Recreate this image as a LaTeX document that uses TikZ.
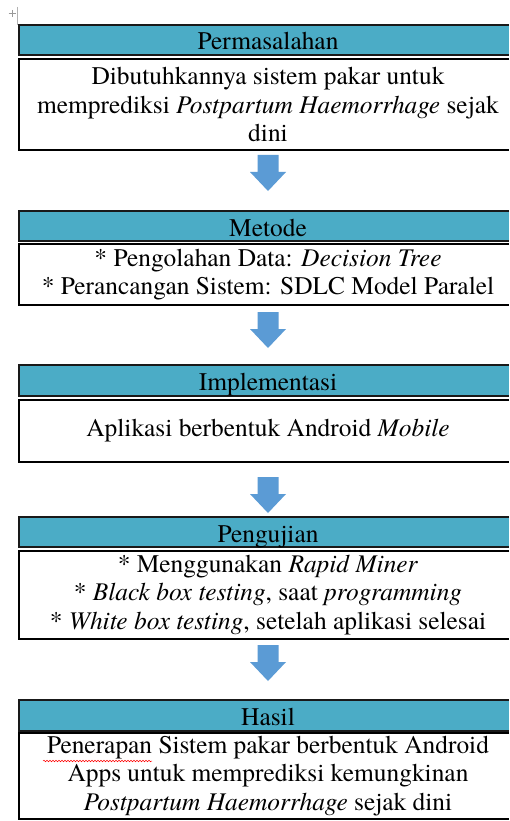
\documentclass[tikz,border=0pt]{standalone}
\usepackage{fontspec}
\setmainfont{TeX Gyre Termes}
\usetikzlibrary{decorations.pathmorphing,backgrounds}
\definecolor{headfill}{HTML}{4BACC6}
\definecolor{arrowfill}{HTML}{5B9BD5}
\begin{document}
\begin{tikzpicture}[x=1pt,y=-1pt,
  headbox/.style={minimum width=482pt, inner sep=0pt, outer sep=0pt, anchor=north,
    text height=21pt, text depth=1pt, font=\fontsize{25.4}{29}\selectfont},
  bodybox/.style={minimum width=482pt, inner sep=0pt, outer sep=0pt, anchor=north,
    align=center, font=\fontsize{25.4}{28.8}\selectfont},
  headline/.style={draw=black!90, line width=1.3pt},
  bodyline/.style={draw=black, line width=1.3pt},
  downarrow/.pic={\fill[arrowfill] (-10.5,0) -- (10.5,0) -- (10.5,17) -- (18,17) -- (0,36) -- (-18,17) -- (-10.5,17) -- cycle;}
]
\path[use as bounding box] (0,0) rectangle (509,821);
\coordinate (L) at (19,0);
\coordinate (R) at (509,0);
% table handle
\draw[gray!60, line width=0.6pt] (17,7) -- (17,25);
\draw[gray!80, line width=0.8pt] (12,10) -- (12,17) (8.5,13.5) -- (15.5,13.5);

\node[headbox, minimum height=30pt] (h1) at (268,25) {Permasalahan};
\node[bodybox, minimum height=91pt] (c1) at (268,59) {Dibutuhkannya sistem pakar untuk\\ memprediksi \textit{Postpartum Haemorrhage} sejak\\ dini};
\pic at (268,155) {downarrow};

\node[headbox, minimum height=30pt] (h2) at (268,211) {Metode};
\node[bodybox, minimum height=61pt] (c2) at (268,244) {* Pengolahan Data: \textit{Decision Tree}\\ * Perancangan Sistem: SDLC Model Paralel};
\pic at (268,312) {downarrow};

\node[headbox, minimum height=31pt] (h3) at (268,365) {Implementasi};
\node[bodybox, minimum height=62pt] (c3) at (268,400) {Aplikasi berbentuk Android \textit{Mobile}};
\pic at (268,477) {downarrow};

\node[headbox, minimum height=30pt] (h4) at (268,517) {Pengujian};
\node[bodybox, minimum height=88pt] (c4) at (268,551) {* Menggunakan \textit{Rapid Miner}\\ * \textit{Black box testing}, saat \textit{programming}\\ * \textit{White box testing}, setelah aplikasi selesai};
\pic at (268,645) {downarrow};

\node[headbox, minimum height=31pt] (h5) at (268,700) {Hasil};
\node[bodybox, minimum height=86pt] (c5) at (268,733) {Penerapan Sistem pakar berbentuk Android\\ Apps untuk memprediksi kemungkinan\\ \textit{Postpartum Haemorrhage} sejak dini};
\draw[red, line width=0.5pt, decorate, decoration={snake, amplitude=0.8pt, segment length=3pt}] (43,761) -- (152,761);

\begin{pgfonlayer}{background}
\fill[white] (0,0) rectangle (509,821);
\foreach \n in {h1,h2,h3,h4,h5}{
  \fill[headfill] (\n.north -| L) rectangle (\n.south -| R);
  \draw[headline] (\n.north -| R) -- (\n.north -| L) -- (\n.south -| L) -- (\n.south -| R);
}
\foreach \n in {c1,c2,c3,c4,c5}{
  \draw[bodyline] (\n.north -| R) -- (\n.north -| L) -- (\n.south -| L) -- (\n.south -| R);
}
\end{pgfonlayer}
\end{tikzpicture}
\end{document}
